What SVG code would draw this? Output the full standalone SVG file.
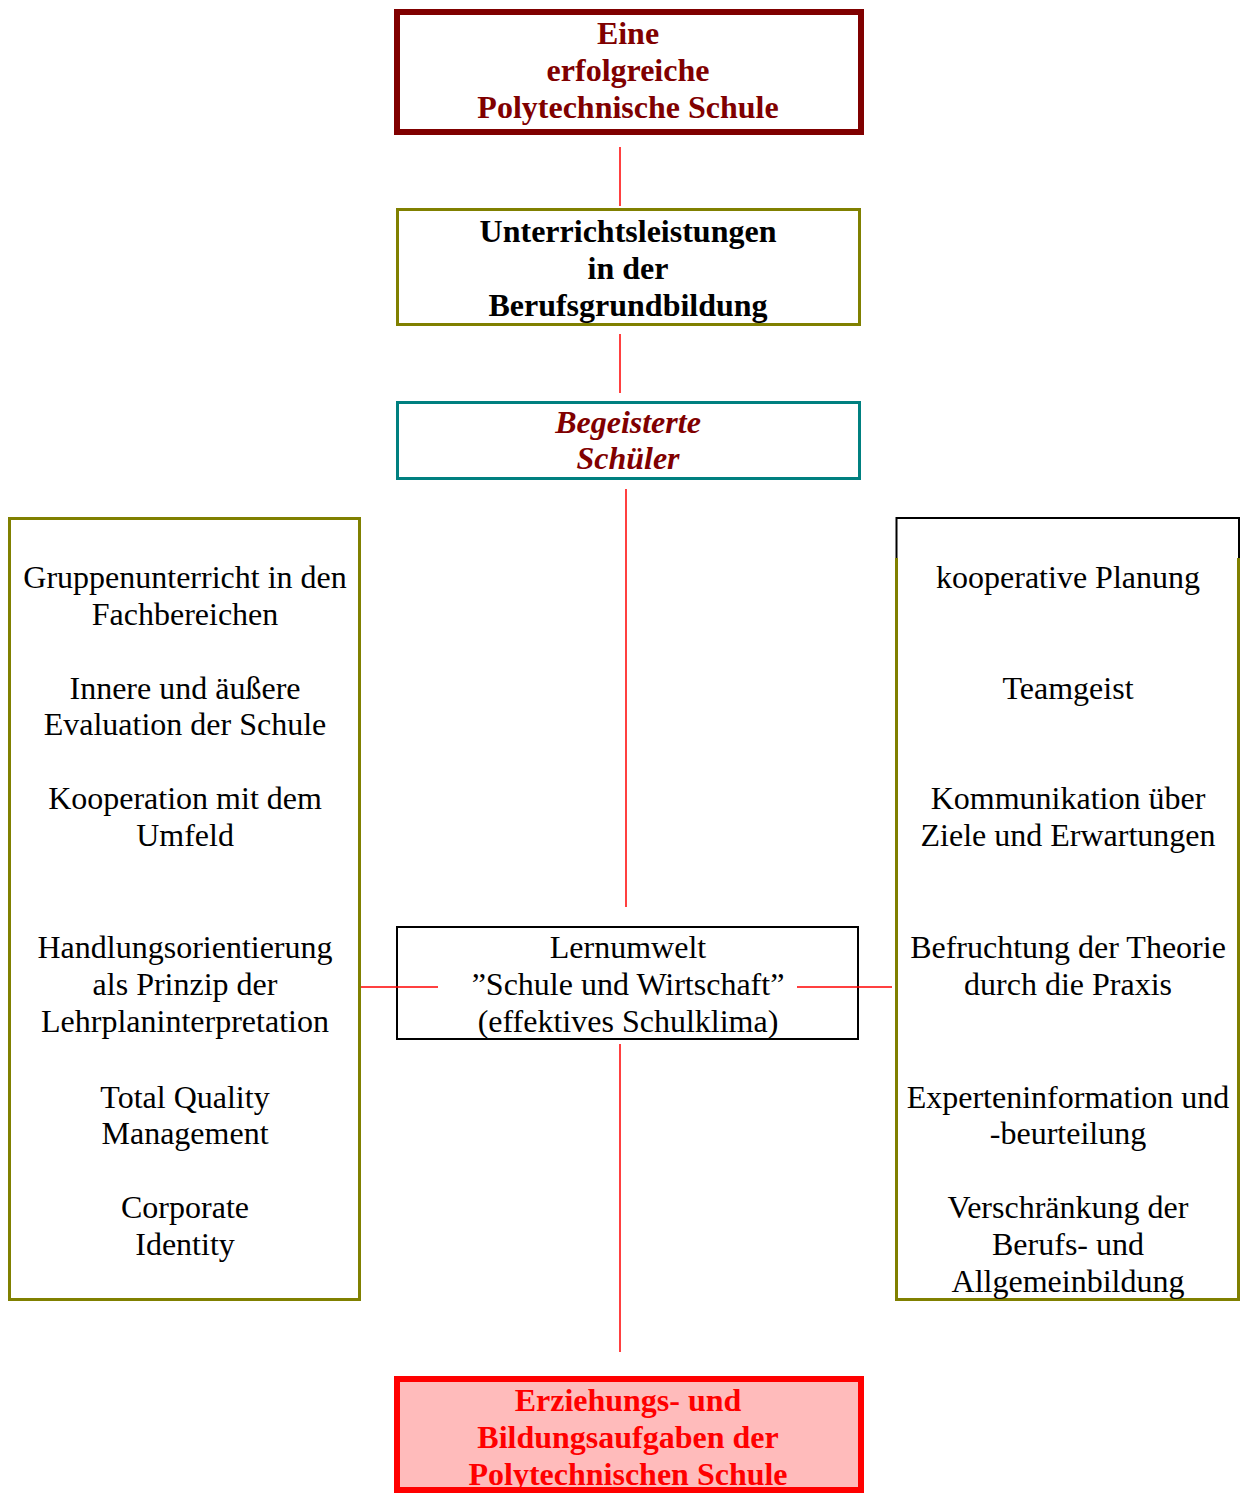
<svg xmlns="http://www.w3.org/2000/svg" width="1241" height="1494" viewBox="0 0 1241 1494">
<style>
text{font-family:"Liberation Serif","Times New Roman",serif;font-size:32px;text-anchor:middle;fill:#000}
.b{font-weight:bold}
.dr{fill:#800000}
.red{fill:#ff0000}
.it{font-style:italic}
.conn line{stroke:#ff0000;stroke-width:1.5}
</style>
<rect width="1241" height="1494" fill="#fff"/>
<g id="top">
<rect x="397" y="12" width="464" height="120" fill="#fff" stroke="#800000" stroke-width="6"/>
<text class="b dr" x="628" y="44">Eine</text>
<text class="b dr" x="628" y="81">erfolgreiche</text>
<text class="b dr" x="628" y="118">Polytechnische Schule</text>
</g>
<g id="unterricht">
<rect x="397.5" y="209.5" width="462" height="115" fill="#fff" stroke="#808000" stroke-width="3"/>
<text class="b" x="628" y="242">Unterrichtsleistungen</text>
<text class="b" x="628" y="279">in der</text>
<text class="b" x="628" y="316">Berufsgrundbildung</text>
</g>
<g id="schueler">
<rect x="397.5" y="402.5" width="462" height="76" fill="#fff" stroke="#008080" stroke-width="3"/>
<text class="b it dr" x="628" y="433">Begeisterte</text>
<text class="b it dr" x="628" y="469">Schüler</text>
</g>
<g id="left">
<rect x="9.5" y="518.5" width="350" height="781" fill="#fff" stroke="#808000" stroke-width="3"/>
<text x="185" y="588">Gruppenunterricht in den</text>
<text x="185" y="625">Fachbereichen</text>
<text x="185" y="699">Innere und äußere</text>
<text x="185" y="735">Evaluation der Schule</text>
<text x="185" y="809">Kooperation mit dem</text>
<text x="185" y="846">Umfeld</text>
<text x="185" y="958">Handlungsorientierung</text>
<text x="185" y="995">als Prinzip der</text>
<text x="185" y="1032">Lehrplaninterpretation</text>
<text x="185" y="1108">Total Quality</text>
<text x="185" y="1144">Management</text>
<text x="185" y="1218">Corporate</text>
<text x="185" y="1255">Identity</text>
</g>
<g id="right">
<path d="M896.5 558 V518 H1239 V558" fill="none" stroke="#000" stroke-width="2"/>
<path d="M896.5 558 V1299.5 H1238.5 V558" fill="none" stroke="#808000" stroke-width="3"/>
<text x="1068" y="588">kooperative Planung</text>
<text x="1068" y="699">Teamgeist</text>
<text x="1068" y="809">Kommunikation über</text>
<text x="1068" y="846">Ziele und Erwartungen</text>
<text x="1068" y="958">Befruchtung der Theorie</text>
<text x="1068" y="995">durch die Praxis</text>
<text x="1068" y="1108">Experteninformation und</text>
<text x="1068" y="1144">-beurteilung</text>
<text x="1068" y="1218">Verschränkung der</text>
<text x="1068" y="1255">Berufs- und</text>
<text x="1068" y="1292">Allgemeinbildung</text>
</g>
<g id="lernumwelt">
<rect x="397" y="927" width="461" height="112" fill="#fff" stroke="#000" stroke-width="2"/>
<text x="628" y="958">Lernumwelt</text>
<text x="628" y="995">”Schule und Wirtschaft”</text>
<text x="628" y="1032">(effektives Schulklima)</text>
</g>
<g id="bottom">
<rect x="397" y="1379" width="464" height="111" fill="#ffbbbb" stroke="#ff0000" stroke-width="6"/>
<text class="b red" x="628" y="1411">Erziehungs- und</text>
<text class="b red" x="628" y="1448">Bildungsaufgaben der</text>
<text class="b red" x="628" y="1485">Polytechnischen Schule</text>
</g>
<g id="conns" class="conn">
<line x1="620" y1="147" x2="620" y2="206"/>
<line x1="620" y1="334" x2="620" y2="393"/>
<line x1="626" y1="489" x2="626" y2="907"/>
<line x1="620" y1="1044" x2="620" y2="1352"/>
<line x1="361" y1="987" x2="438" y2="987"/>
<line x1="797" y1="987" x2="892" y2="987"/>
</g>
</svg>
